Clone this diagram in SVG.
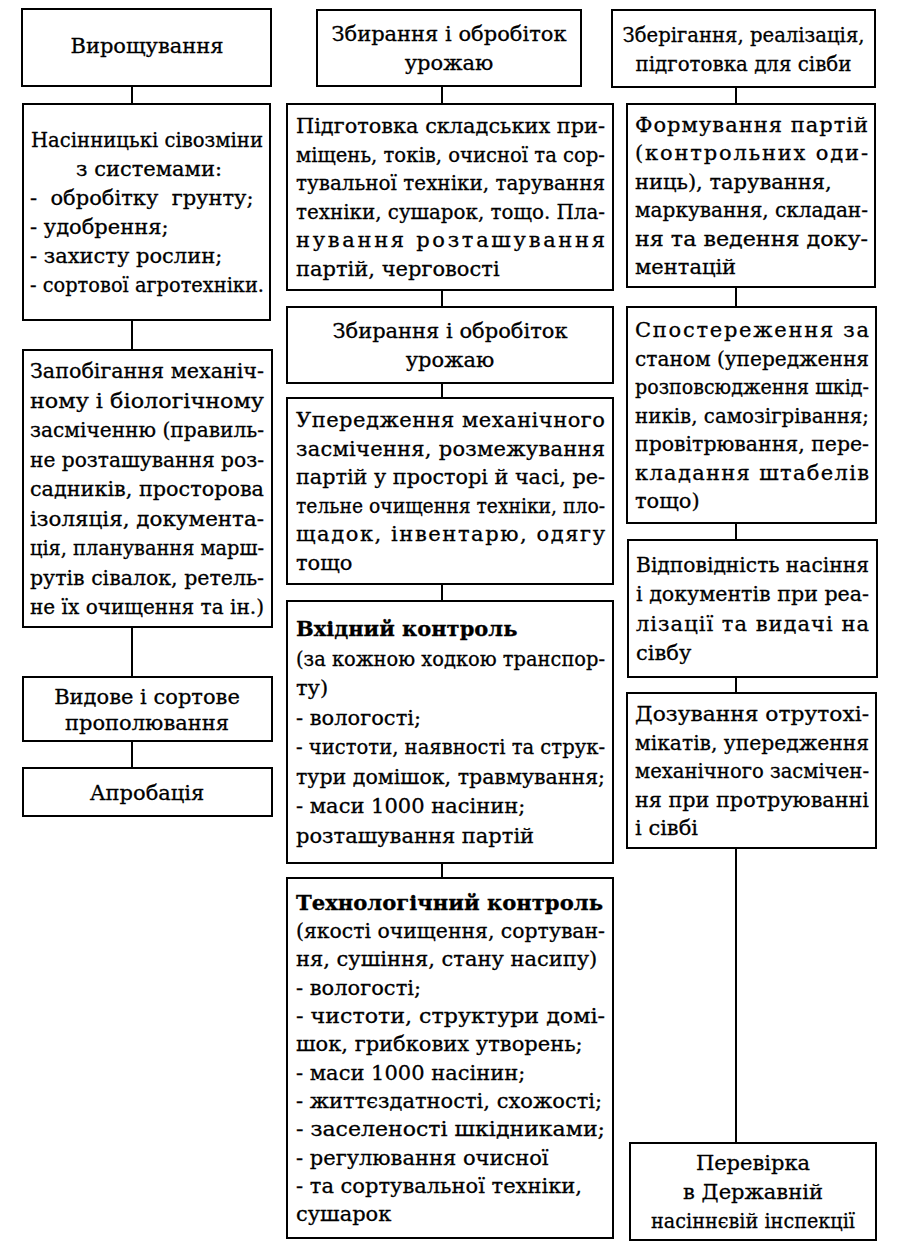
<svg xmlns="http://www.w3.org/2000/svg" width="900" height="1246" viewBox="0 0 900 1246">
<style>
.box{fill:#fff;stroke:#000;stroke-width:2}
.conn{stroke:#000;stroke-width:2;fill:none}
.tx text{font-family:"DejaVu Serif","Liberation Serif","Noto Serif",serif;font-size:21px;fill:#000;stroke:#000;stroke-width:0.3}
.c{text-anchor:middle}
.b{font-weight:bold}
</style>
<rect width="900" height="1246" fill="#fff"/>
<g id="connectors">
<line class="conn" x1="132" y1="86" x2="132" y2="104"/>
<line class="conn" x1="132" y1="320" x2="132" y2="350"/>
<line class="conn" x1="132" y1="627" x2="132" y2="677"/>
<line class="conn" x1="132" y1="741" x2="132" y2="768"/>
<line class="conn" x1="442" y1="86" x2="442" y2="104"/>
<line class="conn" x1="442" y1="290" x2="442" y2="307"/>
<line class="conn" x1="442" y1="383" x2="442" y2="398"/>
<line class="conn" x1="442" y1="584" x2="442" y2="601"/>
<line class="conn" x1="442" y1="863" x2="442" y2="878"/>
<line class="conn" x1="736" y1="87" x2="736" y2="104"/>
<line class="conn" x1="736" y1="287" x2="736" y2="307"/>
<line class="conn" x1="736" y1="523" x2="736" y2="540"/>
<line class="conn" x1="736" y1="677" x2="736" y2="693"/>
<line class="conn" x1="736" y1="848" x2="736" y2="1143"/>
</g>
<g class="tx">
<g id="n_vyroshchuvannia">
<rect class="box" x="22" y="9" width="249" height="77"/>
<text class="c" x="147" y="53">Вирощування</text>
</g>
<g id="n_sivozminy">
<rect class="box" x="23" y="104" width="247" height="216"/>
<text class="c" x="147" y="147" textLength="232" lengthAdjust="spacingAndGlyphs">Насінницькі сівозміни</text>
<text class="c" x="149" y="176">з системами:</text>
<text x="30" y="205" xml:space="preserve">-  обробітку  грунту;</text>
<text x="30" y="234">- удобрення;</text>
<text x="30" y="263">- захисту рослин;</text>
<text x="30" y="292" textLength="234" lengthAdjust="spacingAndGlyphs">- сортової агротехніки.</text>
</g>
<g id="n_zapobigannia">
<rect class="box" x="23" y="350" width="249" height="277"/>
<text x="30" y="378" textLength="234" lengthAdjust="spacingAndGlyphs">Запобігання механіч-</text>
<text x="30" y="407.5" textLength="234" lengthAdjust="spacingAndGlyphs">ному і біологічному</text>
<text x="30" y="437" textLength="234" lengthAdjust="spacingAndGlyphs">засміченню (правиль-</text>
<text x="30" y="466.5" textLength="234" lengthAdjust="spacingAndGlyphs">не розташування роз-</text>
<text x="30" y="496" textLength="234" lengthAdjust="spacingAndGlyphs">садників, просторова</text>
<text x="30" y="525.5" textLength="234" lengthAdjust="spacingAndGlyphs">ізоляція, документа-</text>
<text x="30" y="555" textLength="234" lengthAdjust="spacingAndGlyphs">ція, планування марш-</text>
<text x="30" y="584.5" textLength="234" lengthAdjust="spacingAndGlyphs">рутів сівалок, ретель-</text>
<text x="30" y="614" textLength="234" lengthAdjust="spacingAndGlyphs">не їх очищення та ін.)</text>
</g>
<g id="n_propoliuvannia">
<rect class="box" x="23" y="677" width="249" height="64"/>
<text class="c" x="147" y="703.5">Видове і сортове</text>
<text class="c" x="147" y="729.5">прополювання</text>
</g>
<g id="n_aprobatsiia">
<rect class="box" x="23" y="768" width="249" height="48"/>
<text class="c" x="147" y="799.5">Апробація</text>
</g>
<g id="n_zbyrannia1">
<rect class="box" x="317" y="10" width="264" height="76"/>
<text class="c" x="449" y="41">Збирання і обробіток</text>
<text class="c" x="449" y="70">урожаю</text>
</g>
<g id="n_pidgotovka">
<rect class="box" x="287" y="104" width="326" height="186"/>
<text x="296" y="133" textLength="309" lengthAdjust="spacingAndGlyphs">Підготовка складських при-</text>
<text x="296" y="162" textLength="309" lengthAdjust="spacingAndGlyphs">міщень, токів, очисної та сор-</text>
<text x="296" y="190" textLength="309" lengthAdjust="spacingAndGlyphs">тувальної техніки, тарування</text>
<text x="296" y="219" textLength="309" lengthAdjust="spacingAndGlyphs">техніки, сушарок, тощо. Пла-</text>
<text x="296" y="247" textLength="309" lengthAdjust="spacing">нування    розташування</text>
<text x="296" y="276">партій, черговості</text>
</g>
<g id="n_zbyrannia2">
<rect class="box" x="287" y="307" width="326" height="76"/>
<text class="c" x="450" y="338">Збирання і обробіток</text>
<text class="c" x="450" y="367">урожаю</text>
</g>
<g id="n_uperedzhennia">
<rect class="box" x="287" y="398" width="326" height="186"/>
<text x="296" y="427" textLength="309" lengthAdjust="spacing">Упередження механічного</text>
<text x="296" y="456" textLength="309" lengthAdjust="spacing">засмічення, розмежування</text>
<text x="296" y="484" textLength="309" lengthAdjust="spacingAndGlyphs">партій у просторі й часі, ре-</text>
<text x="296" y="513" textLength="309" lengthAdjust="spacingAndGlyphs">тельне очищення техніки, пло-</text>
<text x="296" y="541" textLength="309" lengthAdjust="spacing">щадок, інвентарю, одягу</text>
<text x="296" y="570">тощо</text>
</g>
<g id="n_vkhidnyi">
<rect class="box" x="287" y="601" width="326" height="262"/>
<text class="b" x="296" y="636">Вхідний  контроль</text>
<text x="296" y="666" textLength="309" lengthAdjust="spacingAndGlyphs">(за кожною ходкою транспор-</text>
<text x="296" y="695">ту)</text>
<text x="296" y="725">- вологості;</text>
<text x="296" y="754" textLength="309" lengthAdjust="spacingAndGlyphs">- чистоти, наявності та струк-</text>
<text x="296" y="784" textLength="309" lengthAdjust="spacingAndGlyphs">тури домішок, травмування;</text>
<text x="296" y="813">- маси 1000 насінин;</text>
<text x="296" y="843">розташування партій</text>
</g>
<g id="n_tekhnolohichnyi">
<rect class="box" x="287" y="878" width="326" height="360"/>
<text class="b" x="296" y="910" textLength="307" lengthAdjust="spacingAndGlyphs">Технологічний контроль</text>
<text x="296" y="938" textLength="309" lengthAdjust="spacingAndGlyphs">(якості очищення, сортуван-</text>
<text x="296" y="966">ня, сушіння, стану насипу)</text>
<text x="296" y="995">- вологості;</text>
<text x="296" y="1023" textLength="309" lengthAdjust="spacingAndGlyphs">- чистоти, структури домі-</text>
<text x="296" y="1051">шок, грибкових утворень;</text>
<text x="296" y="1080">- маси 1000 насінин;</text>
<text x="296" y="1108">- життєздатності, схожості;</text>
<text x="296" y="1136" textLength="309" lengthAdjust="spacingAndGlyphs">- заселеності шкідниками;</text>
<text x="296" y="1165">- регулювання очисної</text>
<text x="296" y="1193">- та сортувальної техніки,</text>
<text x="296" y="1221">сушарок</text>
</g>
<g id="n_zberigannia">
<rect class="box" x="612" y="10" width="263" height="77"/>
<text class="c" x="743.5" y="42" textLength="242" lengthAdjust="spacingAndGlyphs">Зберігання, реалізація,</text>
<text class="c" x="743.5" y="71" textLength="216" lengthAdjust="spacingAndGlyphs">підготовка для сівби</text>
</g>
<g id="n_formuvannia">
<rect class="box" x="627" y="104" width="248" height="183"/>
<text x="635" y="132" textLength="233" lengthAdjust="spacing">Формування партій</text>
<text x="635" y="160" textLength="233" lengthAdjust="spacing">(контрольних оди-</text>
<text x="635" y="189">ниць), тарування,</text>
<text x="635" y="217" textLength="233" lengthAdjust="spacingAndGlyphs">маркування, складан-</text>
<text x="635" y="246" textLength="233" lengthAdjust="spacingAndGlyphs">ня та ведення доку-</text>
<text x="635" y="274">ментацій</text>
</g>
<g id="n_sposterezhennia">
<rect class="box" x="627" y="307" width="249" height="216"/>
<text x="635" y="337" textLength="234" lengthAdjust="spacing">Спостереження  за</text>
<text x="635" y="365.5" textLength="234" lengthAdjust="spacingAndGlyphs">станом (упередження</text>
<text x="635" y="394" textLength="234" lengthAdjust="spacingAndGlyphs">розповсюдження шкід-</text>
<text x="635" y="422.5" textLength="234" lengthAdjust="spacingAndGlyphs">ників, самозігрівання;</text>
<text x="635" y="451" textLength="234" lengthAdjust="spacingAndGlyphs">провітрювання, пере-</text>
<text x="635" y="479.5" textLength="234" lengthAdjust="spacing">кладання штабелів</text>
<text x="635" y="508">тощо)</text>
</g>
<g id="n_vidpovidnist">
<rect class="box" x="628" y="540" width="249" height="137"/>
<text x="636" y="572" textLength="233" lengthAdjust="spacingAndGlyphs">Відповідність насіння</text>
<text x="636" y="601" textLength="233" lengthAdjust="spacingAndGlyphs">і документів при реа-</text>
<text x="636" y="631" textLength="233" lengthAdjust="spacing">лізації та видачі на</text>
<text x="636" y="660">сівбу</text>
</g>
<g id="n_dozuvannia">
<rect class="box" x="627" y="693" width="249" height="155"/>
<text x="635" y="721" textLength="234" lengthAdjust="spacingAndGlyphs">Дозування отрутохі-</text>
<text x="635" y="749.5" textLength="234" lengthAdjust="spacingAndGlyphs">мікатів, упередження</text>
<text x="635" y="778" textLength="234" lengthAdjust="spacingAndGlyphs">механічного засмічен-</text>
<text x="635" y="806.5" textLength="234" lengthAdjust="spacingAndGlyphs">ня при протруюванні</text>
<text x="635" y="835">і сівбі</text>
</g>
<g id="n_perevirka">
<rect class="box" x="630" y="1143" width="246" height="97"/>
<text class="c" x="753" y="1170">Перевірка</text>
<text class="c" x="753" y="1199">в Державній</text>
<text class="c" x="753" y="1228" textLength="204" lengthAdjust="spacingAndGlyphs">насіннєвій інспекції</text>
</g>
</g>
</svg>
